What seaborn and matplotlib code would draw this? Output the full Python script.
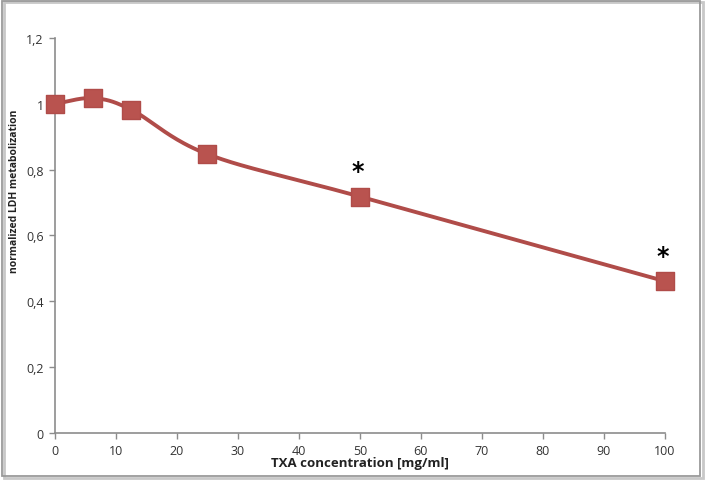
import numpy as np
import pandas as pd
import seaborn as sns
import matplotlib.pyplot as plt
from matplotlib.ticker import FuncFormatter, MultipleLocator
from matplotlib.patches import Rectangle

# data
concentration = [0, 6.25, 12.5, 25, 50, 100]
ldh = [1.0, 1.017, 0.982, 0.847, 0.718, 0.461]
significant = [False, False, False, False, True, True]

LINE_COLOR = "#b04c49"
FILL_COLOR = "#b9534f"


def smooth_curve(x, y, steps=40):
    """Catmull-Rom style smoothing like the spreadsheet 'smoothed line' option"""
    x = np.asarray(x, float)
    y = np.asarray(y, float)
    px = np.concatenate([[2 * x[0] - x[1]], x, [2 * x[-1] - x[-2]]])
    py = np.concatenate([[2 * y[0] - y[1]], y, [2 * y[-1] - y[-2]]])
    xs, ys = [], []
    t = np.linspace(0, 1, steps)
    for i in range(1, len(px) - 2):
        # bezier control points with tension 1/6
        c1x = px[i] + (px[i + 1] - px[i - 1]) / 6
        c1y = py[i] + (py[i + 1] - py[i - 1]) / 6
        c2x = px[i + 1] - (px[i + 2] - px[i]) / 6
        c2y = py[i + 1] - (py[i + 2] - py[i]) / 6
        bx = (1 - t) ** 3 * px[i] + 3 * (1 - t) ** 2 * t * c1x + 3 * (1 - t) * t ** 2 * c2x + t ** 3 * px[i + 1]
        by = (1 - t) ** 3 * py[i] + 3 * (1 - t) ** 2 * t * c1y + 3 * (1 - t) * t ** 2 * c2y + t ** 3 * py[i + 1]
        xs.extend(bx)
        ys.extend(by)
    return np.array(xs), np.array(ys)


df = pd.DataFrame({"conc": concentration, "ldh": ldh, "sig": significant})

sns.set_theme(style="white")
plt.rcParams["font.family"] = ["Open Sans", "DejaVu Sans"]

fig = plt.figure(figsize=(7.05, 4.81), dpi=100)
ax = fig.add_axes([0.078, 0.098, 0.865, 0.821])

# smoothed line
sx, sy = smooth_curve(df["conc"], df["ldh"])
ax.plot(sx, sy, color=LINE_COLOR, lw=2.8, zorder=2, solid_capstyle="round")

# square markers
sns.scatterplot(data=df, x="conc", y="ldh", marker="s", s=150, color=FILL_COLOR,
                edgecolor=LINE_COLOR, linewidth=1, ax=ax, zorder=3, clip_on=False)

# significance stars
for _, row in df[df["sig"]].iterrows():
    ax.text(row["conc"] - 0.3, row["ldh"] + 0.04, "*", ha="center", va="bottom",
            fontsize=17, fontweight="bold", color="black", fontfamily="DejaVu Sans")

ax.set_xlim(0, 100)
ax.set_ylim(0, 1.2)
ax.xaxis.set_major_locator(MultipleLocator(10))
ax.yaxis.set_major_locator(MultipleLocator(0.2))
ax.yaxis.set_major_formatter(FuncFormatter(lambda v, p: f"{v:g}".replace(".", ",")))

for side in ["top", "right"]:
    ax.spines[side].set_visible(False)
for side in ["left", "bottom"]:
    ax.spines[side].set_color("#8c8c8c")
    ax.spines[side].set_linewidth(1.2)

ax.tick_params(axis="both", which="major", direction="out", length=4, width=1,
               color="#8c8c8c", labelsize=9, labelcolor="#333333", pad=4,
               bottom=True, left=True)

ax.set_xlabel("TXA concentration [mg/ml]", fontsize=9.5, fontweight="bold", color="#222222", labelpad=-1)
ax.set_ylabel("normalized LDH metabolization", fontsize=7.5, fontweight="bold", color="#222222")
ax.yaxis.set_label_coords(-0.058, 0.613)

# chart area border (with a light shadow at bottom/right)
fig.patches.append(Rectangle((0.006, 0.004), 0.991, 0.99, transform=fig.transFigure,
                             fill=False, edgecolor="#c8c8c8", linewidth=2))
fig.patches.append(Rectangle((0.003, 0.008), 0.99, 0.988, transform=fig.transFigure,
                             fill=False, edgecolor="#9a9a9a", linewidth=1.3))

fig.savefig("out.png", dpi=100)
